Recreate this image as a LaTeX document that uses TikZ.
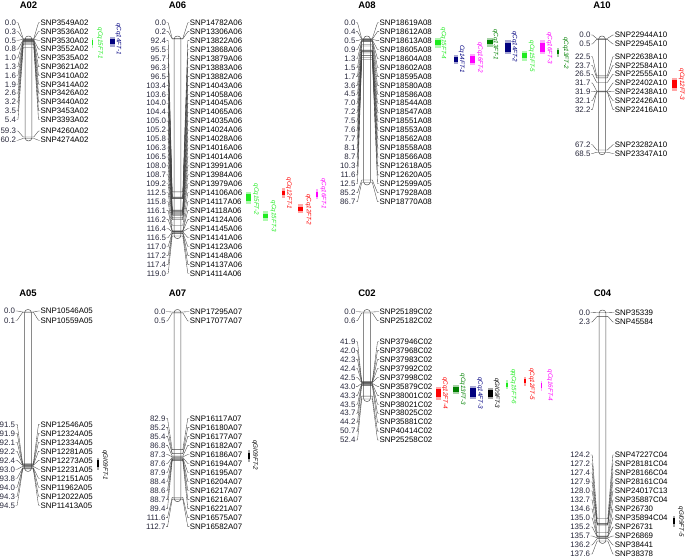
\documentclass[tikz,border=0pt]{standalone}
\usepackage{fontspec}
\setmainfont{Liberation Sans}
\usetikzlibrary{calc}
\definecolor{qgreen}{RGB}{30,235,30}
\definecolor{qnavy}{RGB}{0,0,128}
\definecolor{qred}{RGB}{255,0,0}
\definecolor{qmag}{RGB}{255,0,255}
\definecolor{qdgreen}{RGB}{0,128,0}
\definecolor{qblack}{RGB}{0,0,0}
\definecolor{numc}{RGB}{40,40,60}
\tikzset{
 numlab/.style={font=\fontsize{7.9}{8}\selectfont, text=numc, inner sep=0.4pt},
 snplab/.style={font=\fontsize{7.9}{8}\selectfont, inner sep=0.4pt},
 fan/.style={draw=black!75, line width=0.35pt},
 chbar/.style={draw=black!70, line width=0.5pt, fill=white, rounded corners=3pt},
 chtitle/.style={font=\bfseries\fontsize{9.5}{10}\selectfont, inner sep=0pt},
 qlab/.style={font=\itshape\fontsize{6.3}{7}\selectfont, rotate=-90, inner sep=0pt},
}
\newcommand\setchr[4]{\gdef\nx{#1}\gdef\cx{#2}\gdef\sx{#3}\gdef\yz{#4}}
\newcommand\chrbar[2]{\draw[chbar] (\cx-3.3,\yz+1.66*#1-2.5) rectangle (\cx+3.3,\yz+1.66*#2+2.5);}
\newcommand\mk[3]{%
 \pgfmathsetmacro\mky{\yz+1.66*#1}%
 \node[numlab,anchor=east] (n#3) at (\nx,#2) {#1};
 \node[snplab,anchor=west] (s#3) at (\sx,#2) {#3};
 \coordinate (bl#3) at (\cx-3.3,\mky);
 \coordinate (br#3) at (\cx+3.3,\mky);
 \draw[fan] (n#3.east) -- ++(1.5,0) -- ($(bl#3)+(-2,0)$) -- (bl#3) -- (br#3) -- ($(br#3)+(2,0)$) -- ($(s#3.west)+(-1.5,0)$) -- (s#3.west);
}
\newcommand\mkrows[3]{\foreach \cm/\nm [count=\i from 0] in {#3}{\pgfmathsetmacro\ry{#1+#2*\i}\mk{\cm}{\ry}{\nm}}}
\newcommand\qtl[9]{%
 \fill[#1!35] (#2,#4-2.5) rectangle (#3,#5+2.5);
 \fill[#1] (#2,#4) rectangle (#3,#5);
 \node[qlab,text=#1] (q#9) at (#6,#7) {#8};
}
\begin{document}
\begin{tikzpicture}[x=1pt,y=-1pt]
\useasboundingbox (0,0) rectangle (685,558);
% ---------- A02
\setchr{16.5}{28.5}{40}{38.5}
\node[chtitle] (tA02) at (\cx,5) {A02};
\chrbar{0}{60.2}
\mkrows{22.7}{8.8}{0.0/SNP3549A02,0.3/SNP3536A02,0.5/SNP3530A02,0.8/SNP3552A02,1.0/SNP3535A02,1.3/SNP3621A02,1.6/SNP3410A02,1.9/SNP3414A02,2.6/SNP3426A02,3.2/SNP3440A02,3.5/SNP3453A02,5.4/SNP3393A02}
\mkrows{131}{9.2}{59.3/SNP4260A02,60.2/SNP4274A02}
% ---------- A06
\setchr{166.7}{177.5}{189.3}{38.5}
\node[chtitle] (tA06) at (\cx,5) {A06};
\chrbar{0}{119.0}
\mkrows{22.7}{8.95}{0.0/SNP14782A06,0.2/SNP13306A06,92.4/SNP13822A06,95.5/SNP13868A06,95.7/SNP13879A06,96.3/SNP13883A06,96.5/SNP13882A06,103.4/SNP14043A06,103.6/SNP14058A06,104.0/SNP14045A06,104.4/SNP14065A06,105.0/SNP14035A06,105.2/SNP14024A06,105.8/SNP14028A06,106.3/SNP14016A06,106.5/SNP14014A06,108.0/SNP13991A06,108.7/SNP13984A06,109.2/SNP13979A06,112.5/SNP14106A06,115.8/SNP14117A06,116.1/SNP14118A06,116.2/SNP14124A06,116.4/SNP14145A06,116.5/SNP14141A06,117.0/SNP14123A06,117.2/SNP14148A06,117.4/SNP14137A06,119.0/SNP14114A06}
% ---------- A08
\setchr{356}{367}{379}{38.5}
\node[chtitle] (tA08) at (\cx,5) {A08};
\chrbar{0}{86.7}
\mkrows{22.7}{8.95}{0.0/SNP18619A08,0.4/SNP18612A08,0.5/SNP18613A08,0.9/SNP18605A08,1.3/SNP18604A08,1.5/SNP18602A08,1.7/SNP18595A08,3.6/SNP18580A08,4.5/SNP18586A08,7.0/SNP18544A08,7.2/SNP18547A08,7.5/SNP18551A08,7.6/SNP18553A08,7.7/SNP18562A08,8.1/SNP18558A08,8.7/SNP18566A08,10.3/SNP12618A05,11.6/SNP12620A05,12.5/SNP12599A05,85.2/SNP17928A08,86.7/SNP18770A08}
% ---------- A10
\setchr{591}{602}{614.3}{38.5}
\node[chtitle] (tA10) at (\cx,5) {A10};
\chrbar{0}{68.5}
\mkrows{35}{9}{0.0/SNP22944A10,0.5/SNP22945A10}
\mkrows{56.7}{8.77}{22.5/SNP22638A10,23.7/SNP22584A10,26.5/SNP22555A10,31.7/SNP22402A10,31.9/SNP22438A10,32.1/SNP22426A10,32.2/SNP22416A10}
\mkrows{144.8}{8.7}{67.2/SNP23282A10,68.5/SNP23347A10}
% ---------- A05
\setchr{15.7}{28}{40}{312}
\node[chtitle] (tA05) at (\cx,293.3) {A05};
\chrbar{0}{94.5}
\mkrows{311}{9.3}{0.0/SNP10546A05,0.1/SNP10559A05}
\mkrows{424.3}{9}{91.5/SNP12546A05,91.9/SNP12324A05,92.1/SNP12334A05,92.2/SNP12281A05,92.4/SNP12273A05,93.0/SNP12231A05,93.8/SNP12151A05,94.0/SNP11962A05,94.3/SNP12022A05,94.5/SNP11413A05}
% ---------- A07
\setchr{166}{177.5}{189.3}{312}
\node[chtitle] (tA07) at (\cx,293.3) {A07};
\chrbar{0}{112.7}
\mkrows{311.7}{9.3}{0.0/SNP17295A07,0.5/SNP17077A07}
\mkrows{418.3}{9.03}{82.9/SNP16117A07,85.2/SNP16180A07,85.4/SNP16177A07,86.8/SNP16182A07,87.3/SNP16186A07,87.6/SNP16194A07,87.9/SNP16195A07,88.4/SNP16204A07,88.6/SNP16217A07,88.7/SNP16216A07,89.4/SNP16221A07,111.6/SNP16575A07,112.7/SNP16582A07}
% ---------- C02
\setchr{356}{367}{379}{312}
\node[chtitle] (tC02) at (\cx,293.3) {C02};
\chrbar{0}{52.4}
\mkrows{311.7}{9}{0.0/SNP25189C02,0.6/SNP25182C02}
\mkrows{341.7}{8.94}{41.9/SNP37946C02,42.0/SNP37968C02,42.3/SNP37983C02,42.4/SNP37992C02,42.5/SNP37998C02,43.0/SNP35879C02,43.3/SNP38001C02,43.5/SNP38021C02,43.7/SNP38025C02,44.2/SNP35881C02,50.7/SNP40414C02,52.4/SNP25258C02}
% ---------- C04
\setchr{590.7}{602.5}{614.3}{312.5}
\node[chtitle] (tC04) at (\cx,293.3) {C04};
\chrbar{0}{137.6}
\mkrows{312.7}{9.3}{0.0/SNP35339,2.3/SNP45584}
\mkrows{455}{9}{124.2/SNP47227C04,127.2/SNP28181C04,127.4/SNP28166C04,127.9/SNP28161C04,128.0/SNP24017C13,132.7/SNP35887C04,134.6/SNP26730,135.0/SNP35894C04,135.2/SNP26731,135.7/SNP26869,136.2/SNP38441,137.6/SNP38378}
% ---------- QTLs
\qtl{qgreen}{92.2}{93.2}{40}{45}{100}{43.5}{qCq15FT-1}{1}
\qtl{qnavy}{110}{115}{39.3}{44}{118.3}{39}{qCq14FT-1}{2}
\qtl{qgreen}{246}{251}{194}{201.3}{256}{199.2}{qCq15FT-2}{3}
\qtl{qgreen}{263.3}{267.7}{213.7}{218.3}{273.3}{216.3}{qCq15FT-3}{4}
\qtl{qred}{282}{285}{190.7}{195}{289}{193.3}{qCq12FT-1}{5}
\qtl{qred}{298.3}{303.3}{206.7}{210.7}{308.3}{209.7}{qCq12FT-2}{6}
\qtl{qmag}{316}{318}{191.7}{196.7}{323.3}{193.7}{qCq16FT-1}{7}
\qtl{qgreen}{435.3}{440.7}{40}{45}{443.3}{43.3}{qCq15FT-4}{8}
\qtl{qnavy}{454.3}{457.7}{57.3}{61.7}{461.7}{59.2}{Cq14FT-1}{9}
\qtl{qmag}{470}{475}{56}{62.7}{480}{57.8}{qCq16FT-2}{10}
\qtl{qdgreen}{487.3}{492.7}{40}{44.3}{495.3}{44.7}{qCq13FT-1}{11}
\qtl{qnavy}{505}{510.7}{42.7}{51.7}{514.3}{46.7}{qCq14FT-2}{12}
\qtl{qgreen}{522}{527.3}{53.3}{58.3}{531.7}{56.3}{qCq15FT-5}{13}
\qtl{qmag}{540}{545}{42.7}{51.7}{549.3}{48}{qCq16FT-3}{14}
\qtl{qdgreen}{557.3}{559}{50}{54}{565.7}{53}{qCq13FT-2}{15}
\qtl{qred}{671.7}{676.7}{80}{88.3}{681.7}{84.2}{qCq12FT-3}{16}
\qtl{qblack}{96.7}{98.7}{460}{467.3}{105}{465}{qGI09FT-1}{17}
\qtl{qblack}{247.7}{250}{452.7}{459.3}{255}{455}{qGI09FT-2}{18}
\qtl{qred}{435.7}{441}{389.3}{397.3}{445}{393}{qCq12FT-4}{19}
\qtl{qdgreen}{453.3}{458.7}{387}{391.7}{462.7}{389.2}{qCq13FT-3}{20}
\qtl{qnavy}{470}{476}{388.3}{396.7}{480}{393}{qCq14FT-3}{21}
\qtl{qblack}{487.7}{493.3}{390}{396.7}{496.7}{393.3}{qGI09FT-3}{22}
\qtl{qgreen}{505.7}{507.7}{382.7}{386.7}{513.3}{386.7}{qqCq15FT-6}{23}
\qtl{qred}{524.3}{525.5}{379.3}{383.3}{531.7}{384}{qCq12FT-5}{24}
\qtl{qmag}{540.5}{542.3}{383}{388}{550}{385.3}{qCq16FT-4}{25}
\qtl{qblack}{672.7}{675}{518.3}{524}{681}{521.7}{qGI09FT-5}{26}
\end{tikzpicture}
\end{document}
